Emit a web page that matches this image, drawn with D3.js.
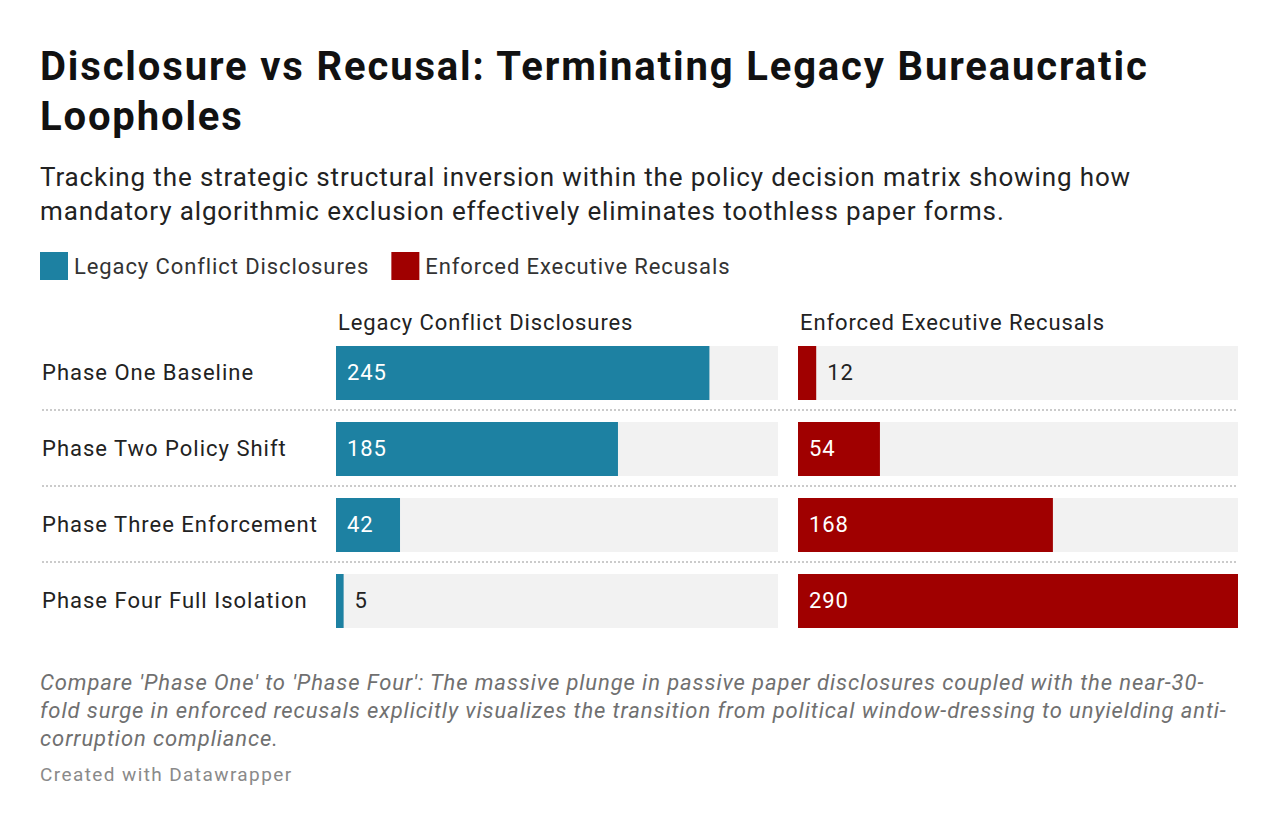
<!DOCTYPE html>
<html><head><meta charset="utf-8">
<script src="https://cdn.jsdelivr.net/npm/d3@7"></script>
<style>body{margin:0;background:#fff;font-family:Roboto,sans-serif}</style>
</head><body><svg id="c" width="1280" height="828"></svg>
<script>
const categories=["Phase One Baseline","Phase Two Policy Shift","Phase Three Enforcement","Phase Four Full Isolation"];
const seriesNames=["Legacy Conflict Disclosures","Enforced Executive Recusals"];
const disclosures=[245,185,42,5];
const recusals=[12,54,168,290];
const colors=["#1d81a2","#a00000"];
const svg=d3.select("#c");
const txt=(x,y,s,o={})=>svg.append("text").attr("x",x).attr("y",y).text(s)
  .attr("font-size",o.size||22).attr("font-weight",o.weight||400).attr("fill",o.fill||"#222")
  .attr("font-style",o.style||"normal").attr("text-anchor",o.anchor||"start")
  .attr("letter-spacing",o.ls==null?0.9:o.ls);
txt(40,80,"Disclosure vs Recusal: Terminating Legacy Bureaucratic",{size:40,weight:700,fill:"#111",ls:1.85});
txt(40,130,"Loopholes",{size:40,weight:700,fill:"#111",ls:1.85});
txt(40,186,"Tracking the strategic structural inversion within the policy decision matrix showing how",{size:26,fill:"#222",ls:0.87});
txt(40,220,"mandatory algorithmic exclusion effectively eliminates toothless paper forms.",{size:26,fill:"#222",ls:0.87});
let lx=40;
seriesNames.forEach((n,i)=>{
  svg.append("rect").attr("x",lx).attr("y",252).attr("width",28).attr("height",28).attr("fill",colors[i]);
  const t=txt(lx+34,274,n,{size:22,fill:"#333"});
  lx+=34+t.node().getComputedTextLength()+22;
});
const panels=[{x0:336,x1:778,data:disclosures},{x0:798,x1:1238,data:recusals}];
panels.forEach((p,pi)=>{
  const x=d3.scaleLinear().domain([0,290]).range([p.x0,p.x1]);
  txt(p.x0+2,330,seriesNames[pi],{size:22,fill:"#222"});
  categories.forEach((c,i)=>{
    const yy=346+i*76;
    svg.append("rect").attr("x",p.x0).attr("y",yy).attr("width",p.x1-p.x0).attr("height",54).attr("fill","#f2f2f2");
    const w=x(p.data[i])-x(0);
    svg.append("rect").attr("x",x(0)).attr("y",yy).attr("width",w).attr("height",54).attr("fill",colors[pi]);
    const inside=w>40;
    txt(inside?x(0)+11:x(p.data[i])+11,yy+34,p.data[i],{size:22,fill:inside?"#fff":"#222"});
  });
});
categories.forEach((c,i)=>{
  const yy=346+i*76;
  txt(42,yy+34,c,{size:22,fill:"#222",ls:1});
  if(i>0) svg.append("line").attr("x1",42).attr("x2",1238).attr("y1",yy-12).attr("y2",yy-12)
    .attr("stroke","#bbb").attr("stroke-width",1.5).attr("stroke-dasharray","2,2");
});
const notes=["Compare 'Phase One' to 'Phase Four': The massive plunge in passive paper disclosures coupled with the near-30-",
"fold surge in enforced recusals explicitly visualizes the transition from political window-dressing to unyielding anti-",
"corruption compliance."];
notes.forEach((n,i)=>txt(40,690+i*28,n,{size:22,style:"italic",fill:"#707070",ls:0.9}));
txt(40,781,"Created with Datawrapper",{size:19,fill:"#8a8a8a",ls:1.4});
</script></body></html>
